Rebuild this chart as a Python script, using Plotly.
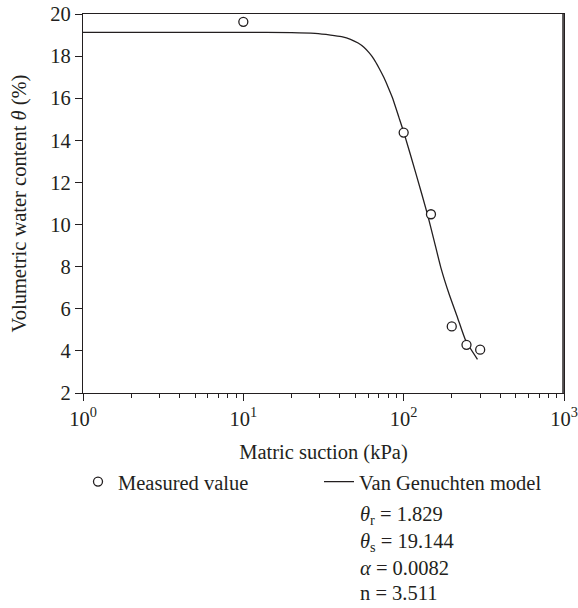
import plotly.graph_objects as go

suction_measured = [10, 100, 148, 199.5, 246.5, 300]
theta_measured = [19.63, 14.37, 10.49, 5.16, 4.29, 4.06]

# Van Genuchten fitted curve
suction_model = [1, 10, 20, 28, 35, 41, 46.6, 52, 56.5, 61, 65.2, 70, 75.3, 80, 85, 93.5, 100,
                 120, 140.5, 154.8, 170.4, 192, 216.6, 244, 288.6]
theta_model = [19.13, 19.13, 19.12, 19.08, 19.0, 18.92, 18.80, 18.62, 18.42, 18.15, 17.86, 17.45, 16.98, 16.52, 16.03, 15.08, 14.40,
               12.35, 10.51, 9.24, 7.97, 6.70, 5.59, 4.48, 3.6]

# Tick labels
x_tickvals = [1, 10, 100, 1000]
x_ticktext = ["10<sup>0</sup>", "10<sup>1</sup>", "10<sup>2</sup>", "10<sup>3</sup>"]
x_minor = [2, 3, 4, 5, 6, 7, 8, 9, 20, 30, 40, 50, 60, 70, 80, 90, 200, 300, 400, 500, 600, 700, 800, 900]
y_tickvals = [2, 4, 6, 8, 10, 12, 14, 16, 18, 20]

params = ["<i>θ</i><sub>r</sub> = 1.829", "<i>θ</i><sub>s</sub> = 19.144", "<i>α</i> = 0.0082", "n = 3.511"]

INK = "#231f20"
FONT = "Liberation Serif"
FS = 20.5
TF = dict(family=FONT, size=FS, color=INK)

fig = go.Figure()
fig.add_trace(go.Scatter(
    x=suction_model, y=theta_model, mode="lines", name="Van Genuchten model",
    line=dict(color=INK, width=1.3, shape="spline", smoothing=0.5),
))
fig.add_trace(go.Scatter(
    x=suction_measured, y=theta_measured, mode="markers", name="Measured value",
    marker=dict(symbol="circle", size=9, color="white", line=dict(color=INK, width=1.3)),
))

fig.update_layout(
    width=578, height=608,
    margin=dict(l=83, r=14, t=14, b=215),
    paper_bgcolor="white", plot_bgcolor="white",
    font=TF,
    showlegend=True,
    legend=dict(orientation="h", x=-0.0104, xanchor="left", y=-0.1813, yanchor="top",
                traceorder="reversed", entrywidth=196, entrywidthmode="pixels",
                font=TF, bgcolor="rgba(0,0,0,0)"),
)
fig.update_xaxes(
    type="log", range=[0, 3], tickvals=x_tickvals, ticktext=x_ticktext,
    ticks="outside", ticklen=7, tickwidth=1.3, tickcolor=INK,
    showline=True, linecolor=INK, linewidth=1.3, mirror=True, showgrid=False, zeroline=False,
    minor=dict(tickvals=x_minor, ticks="outside", ticklen=4, tickwidth=1.1, tickcolor=INK, showgrid=False),
    title=dict(text="Matric suction (kPa)", standoff=15, font=TF),
    tickfont=TF, automargin=False, ticklabeloverflow="allow",
)
fig.update_yaxes(
    range=[2, 20], tickvals=y_tickvals,
    ticks="outside", ticklen=7, tickwidth=1.3, tickcolor=INK,
    showline=True, linecolor=INK, linewidth=1.3, mirror=True, showgrid=False, zeroline=False,
    title=dict(text="Volumetric water content <i>θ</i> (%)", standoff=18, font=TF),
    tickfont=TF, automargin=False, ticklabeloverflow="allow",
)

# right border of the plot frame
fig.add_shape(type="line", xref="paper", yref="paper", x0=0.998, y0=0, x1=0.998, y1=1,
              line=dict(color=INK, width=1.5), layer="above")

ys = [515, 542, 568, 593]
for p, yy in zip(params, ys):
    fig.add_annotation(text=p, xref="paper", yref="paper", x=(358 - 83) / 481, y=-(yy - 393) / 379,
                       xanchor="left", yanchor="middle", showarrow=False, font=TF)

# remove the browser's default 8px body margin so the 578x608 figure fills the window exactly
fig.write_html("out.html", config={"displayModeBar": False},
               post_script="document.body.style.margin='0px';document.body.style.overflow='hidden';")
